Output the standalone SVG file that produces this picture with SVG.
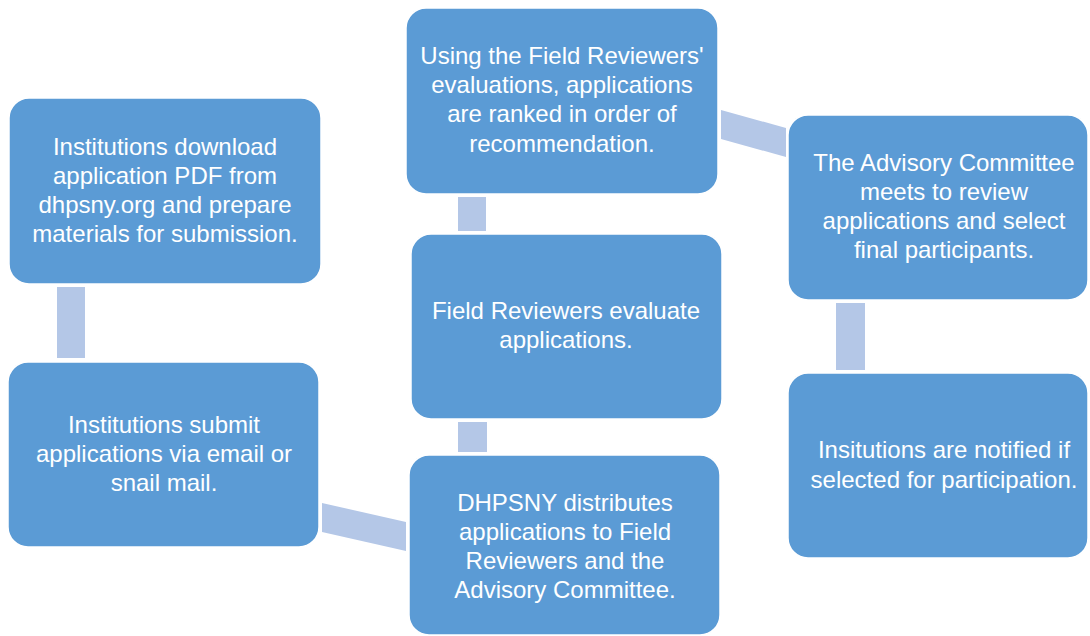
<svg xmlns="http://www.w3.org/2000/svg" width="1090" height="636" viewBox="0 0 1090 636">
<style>
.box{fill:#5B9BD5;stroke:#FFFFFF;stroke-width:1.5}
.con{fill:#B4C7E7;stroke:none}
.t{font-family:"Liberation Sans",Arial,sans-serif;font-size:24px;fill:#FFFFFF;text-anchor:middle}
</style>
<rect width="1090" height="636" fill="#FFFFFF"/>
<g id="connectors">
<rect class="con" x="57" y="287" width="28" height="71"/>
<polygon class="con" points="322,503 406,522 406,551 322,532"/>
<rect class="con" x="458" y="422" width="29" height="30"/>
<rect class="con" x="458" y="197" width="28" height="34"/>
<polygon class="con" points="721,110 786,128 786,157 721,139"/>
<rect class="con" x="836" y="303" width="29" height="67"/>
</g>
<g id="n1">
<rect class="box" x="9" y="98" width="312" height="186" rx="20"/>
<text class="t" x="165" y="155">Institutions download</text>
<text class="t" x="165" y="184">application PDF from</text>
<text class="t" x="165" y="213">dhpsny.org and prepare</text>
<text class="t" x="165" y="242">materials for submission.</text>
</g>
<g id="n2">
<rect class="box" x="8" y="362" width="311" height="185" rx="20"/>
<text class="t" x="164" y="433">Institutions submit</text>
<text class="t" x="164" y="462">applications via email or</text>
<text class="t" x="164" y="491">snail mail.</text>
</g>
<g id="n3">
<rect class="box" x="409" y="455" width="311" height="180" rx="20"/>
<text class="t" x="565" y="511">DHPSNY distributes</text>
<text class="t" x="565" y="540">applications to Field</text>
<text class="t" x="565" y="569">Reviewers and the</text>
<text class="t" x="565" y="598">Advisory Committee.</text>
</g>
<g id="n4">
<rect class="box" x="411" y="234" width="311" height="185" rx="20"/>
<text class="t" x="566" y="319">Field Reviewers evaluate</text>
<text class="t" x="566" y="348">applications.</text>
</g>
<g id="n5">
<rect class="box" x="406" y="8" width="312" height="186" rx="20"/>
<text class="t" x="562" y="64">Using the Field Reviewers'</text>
<text class="t" x="562" y="93">evaluations, applications</text>
<text class="t" x="562" y="122">are ranked in order of</text>
<text class="t" x="562" y="152">recommendation.</text>
</g>
<g id="n6">
<rect class="box" x="788" y="115" width="300" height="185" rx="20"/>
<text class="t" x="944" y="171">The Advisory Committee</text>
<text class="t" x="944" y="200">meets to review</text>
<text class="t" x="944" y="229">applications and select</text>
<text class="t" x="944" y="258">final participants.</text>
</g>
<g id="n7">
<rect class="box" x="788" y="373" width="300" height="185" rx="20"/>
<text class="t" x="944" y="458">Insitutions are notified if</text>
<text class="t" x="944" y="488">selected for participation.</text>
</g>
</svg>
